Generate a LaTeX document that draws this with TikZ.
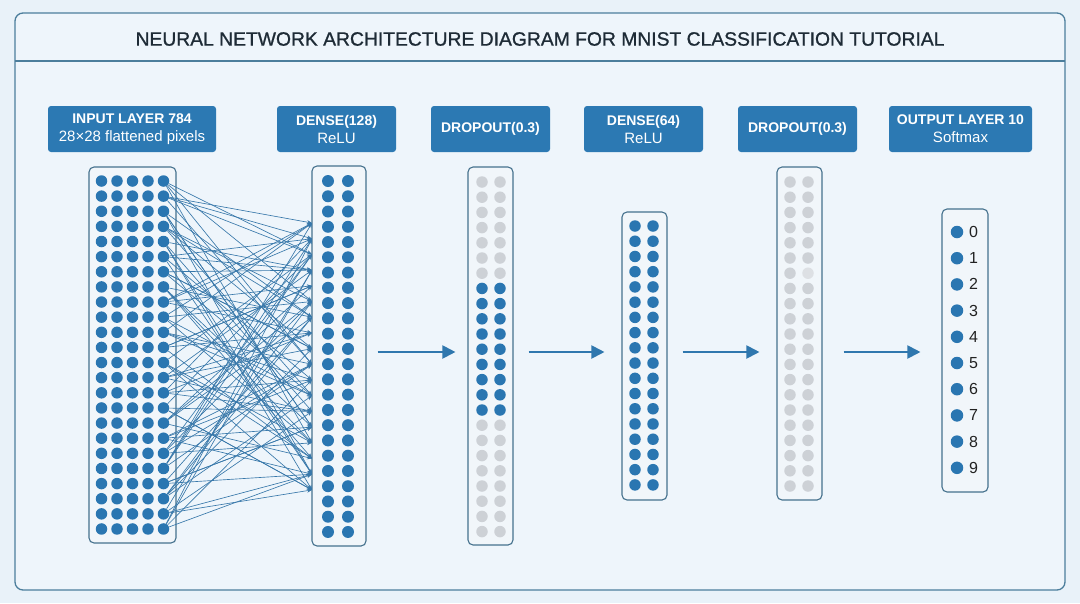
\documentclass[tikz,border=0pt]{standalone}
\usepackage{fontspec}
\setmainfont{Liberation Sans}
\newfontfamily\titlefont[FakeBold=1]{Liberation Sans}
\usetikzlibrary{arrows.meta}
\definecolor{bgc}{HTML}{E9F2F9}
\definecolor{innerbg}{HTML}{EEF5FB}
\definecolor{framec}{HTML}{4C7E9C}
\definecolor{hdrblue}{HTML}{2C79B3}
\definecolor{boxline}{HTML}{45718D}
\definecolor{boxfill}{HTML}{F1F6FA}
\definecolor{dotblue}{HTML}{2A76B1}
\definecolor{dotgrey}{HTML}{CDD1D6}
\definecolor{dotlight}{HTML}{DDE0E4}
\definecolor{connblue}{HTML}{3878AA}
\definecolor{arrowblue}{HTML}{2F77AE}
\definecolor{titlec}{HTML}{1E2B36}
\definecolor{labelc}{HTML}{222222}
\newcommand{\hb}[1]{{\bfseries\fontsize{14}{18}\selectfont #1}}
\newcommand{\hr}[1]{{\fontsize{15}{18}\selectfont #1}}
\tikzset{
  hdr/.style={fill=hdrblue, rounded corners=3pt, minimum height=46, inner sep=0pt, text=white, align=center, font=\fontsize{15}{18}\selectfont},
  colbox/.style={draw=boxline, fill=boxfill, line width=1.1pt, rounded corners=5pt, inner sep=0pt},
  bdot/.style={circle, fill=dotblue, minimum size=11.5, inner sep=0pt},
  gdot/.style={circle, fill=dotgrey, minimum size=11.5, inner sep=0pt},
  ldot/.style={circle, fill=dotlight, minimum size=11.5, inner sep=0pt},
  conn/.style={draw=connblue, line width=0.65pt, -{Stealth[length=5pt,width=4pt]}},
  flow/.style={draw=arrowblue, line width=2pt, -{Triangle[length=13pt,width=13pt]}},
  digit/.style={text=labelc, font=\fontsize{16}{16}\selectfont, inner sep=0pt},
}
\begin{document}
\begin{tikzpicture}[x=1pt,y=-1pt]
\useasboundingbox (0,0) rectangle (1080,603);
\fill[bgc] (0,0) rectangle (1080,603);
% outer frame
\draw[framec, line width=1.3pt, fill=innerbg, rounded corners=8pt] (15,13) rectangle (1065,590);
\draw[framec, line width=1.3pt] (15,61) -- (1065,61);
\node[text=titlec, font=\titlefont\fontsize{19.3}{20}\selectfont, inner sep=0pt] (title) at (540,39) {NEURAL NETWORK ARCHITECTURE DIAGRAM FOR MNIST CLASSIFICATION TUTORIAL};

% headers
\node[hdr, minimum width=168] (h1) at (132,129) {\hb{INPUT LAYER 784}\\\hr{28×28 flattened pixels}};
\node[hdr, minimum width=119] (h2) at (336.5,129) {\hb{DENSE(128)}\\\hr{ReLU}};
\node[hdr, minimum width=119] (h3) at (490.5,129) {\hb{DROPOUT(0.3)}};
\node[hdr, minimum width=119] (h4) at (643.5,129) {\hb{DENSE(64)}\\\hr{ReLU}};
\node[hdr, minimum width=119] (h5) at (797.5,129) {\hb{DROPOUT(0.3)}};
\node[hdr, minimum width=143] (h6) at (960.5,129) {\hb{OUTPUT LAYER 10}\\\hr{Softmax}};

% column boxes
\node[colbox, minimum width=87, minimum height=376] (c1) at (132.5,355) {};
\node[colbox, minimum width=54, minimum height=380] (c2) at (339,356) {};
\node[colbox, minimum width=45, minimum height=378] (c3) at (490.5,356) {};
\node[colbox, minimum width=45, minimum height=288] (c4) at (644.5,356) {};
\node[colbox, minimum width=45, minimum height=333] (c5) at (799.5,333.5) {};
\node[colbox, minimum width=46, minimum height=283] (c6) at (965,350.5) {};

% input dots
\foreach \r in {0,...,23}{
  \foreach \c in {0,...,3}{
    \node[bdot] (in\c-\r) at ({101.5+15.5*\c},{181+15.13*\r}) {};
  }
  \node[bdot] (in\r) at (163.5,{181+15.13*\r}) {};
}
% dense128 dots
\foreach \r in {0,...,23}{
  \node[bdot, minimum size=12] (da\r) at (328,{181+15.26*\r}) {};
  \node[bdot, minimum size=12] (db\r) at (348,{181+15.26*\r}) {};
}
% dropout1 dots
\foreach \r in {0,...,23}{
  \pgfmathtruncatemacro{\act}{(\r>6)&&(\r<16)}
  \ifnum\act=1
    \node[bdot] (pa\r) at (482,{182+15.2*\r}) {};
    \node[bdot] (pb\r) at (500,{182+15.2*\r}) {};
  \else
    \node[gdot] (pa\r) at (482,{182+15.2*\r}) {};
    \node[gdot] (pb\r) at (500,{182+15.2*\r}) {};
  \fi
}
% dense64 dots
\foreach \r in {0,...,17}{
  \node[bdot] (ea\r) at (635,{226+15.23*\r}) {};
  \node[bdot] (eb\r) at (653,{226+15.23*\r}) {};
}
% dropout2 dots
\foreach \r in {0,...,20}{
  \node[gdot] (qa\r) at (790,{182+15.2*\r}) {};
  \ifnum\r=6
    \node[ldot] (qb\r) at (808,{182+15.2*\r}) {};
  \else
    \node[gdot] (qb\r) at (808,{182+15.2*\r}) {};
  \fi
}
% output dots and labels
\foreach \r in {0,...,9}{
  \node[bdot, minimum size=12.5] (o\r) at (957,{232+26.2*\r}) {};
  \node[digit] (ol\r) at (973.5,{232+26.2*\r}) {\r};
}

% targets on dense128 left edge
\foreach \j in {0,...,17}{
  \coordinate (t\j) at (312,{223+15.7*\j});
}
% connectors
\foreach \r in {0,...,23}{
  \pgfmathtruncatemacro{\ta}{mod(\r*7+2,18)}
  \pgfmathtruncatemacro{\tb}{mod(\r*11+9,18)}
  \pgfmathtruncatemacro{\tc}{mod(\r*5+14,18)}
  \pgfmathtruncatemacro{\td}{mod(\r*13+5,18)}
  \draw[conn] (in\r) -- (t\ta);
  \draw[conn] (in\r) -- (t\tb);
  \draw[conn] (in\r) -- (t\tc);
  \draw[conn] (in\r) -- (t\td);
}

% flow arrows
\coordinate (ay) at (0,352);
\draw[flow, shorten <=11pt, shorten >=12pt] (c2.east |- ay) -- (c3.west |- ay);
\draw[flow, shorten <=15pt, shorten >=17pt] (c3.east |- ay) -- (c4.west |- ay);
\draw[flow, shorten <=15pt, shorten >=17pt] (c4.east |- ay) -- (c5.west |- ay);
\draw[flow, shorten <=21pt, shorten >=21pt] (c5.east |- ay) -- (c6.west |- ay);
\end{tikzpicture}
\end{document}
